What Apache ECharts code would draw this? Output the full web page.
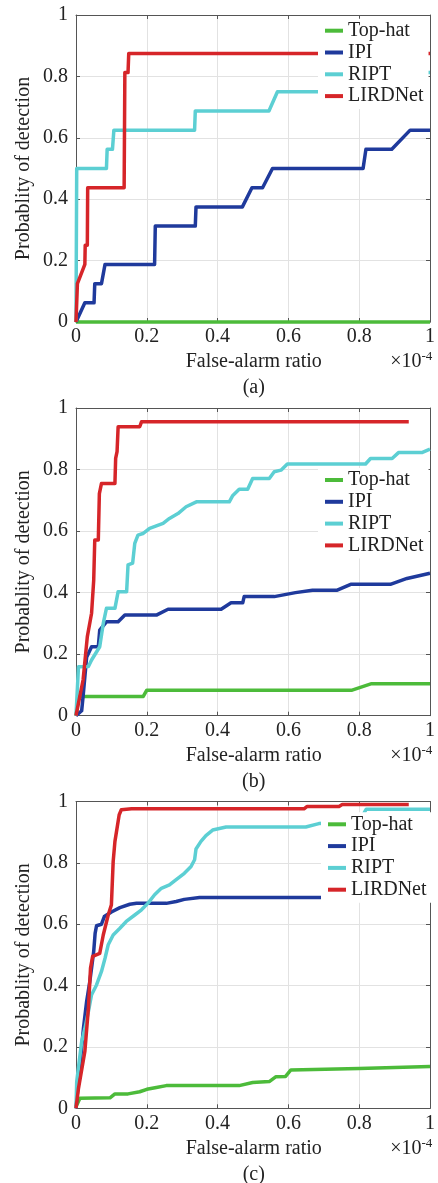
<!DOCTYPE html>
<html>
<head>
<meta charset="utf-8">
<script src="https://cdn.jsdelivr.net/npm/echarts@6/dist/echarts.min.js"></script>
<style>
html,body{margin:0;padding:0;background:#fff;}
#chart{width:438px;height:1183px;}
</style>
</head>
<body>
<div id="chart"></div>
<script>
// ---------- data (x in units of 1e-4) ----------
const seriesNames = ['Top-hat', 'IPI', 'RIPT', 'LIRDNet'];
const tickLabels = ['0', '0.2', '0.4', '0.6', '0.8', '1'];
const panelTitles = ['(a)', '(b)', '(c)'];
const xAxisName = 'False-alarm ratio';
const yAxisName = 'Probablity of detection';
const xScaleBase = '\u00d710';
const xScaleExp = '-4';

// panel (a)
const a_TopHat = [[0,0],[1,0]];
const a_IPI = [[0,0],[0.025,0.0625],[0.051,0.0625],[0.053,0.125],[0.072,0.125],[0.082,0.1875],[0.222,0.1875],[0.224,0.3125],[0.337,0.3125],[0.339,0.375],[0.47,0.375],[0.497,0.4375],[0.527,0.4375],[0.555,0.5],[0.811,0.5],[0.819,0.5625],[0.892,0.5625],[0.944,0.625],[1,0.625]];
const a_RIPT = [[0,0],[0.002,0.5],[0.086,0.5],[0.088,0.5625],[0.103,0.5625],[0.107,0.625],[0.335,0.625],[0.337,0.6875],[0.545,0.6875],[0.569,0.75],[0.85,0.75],[0.87,0.8125],[1,0.8125]];
const a_LIRDNet = [[0,0],[0.004,0.125],[0.025,0.1875],[0.026,0.25],[0.032,0.25],[0.033,0.4375],[0.136,0.4375],[0.138,0.8125],[0.147,0.8125],[0.149,0.875],[1,0.875]];

// panel (b)
const b_TopHat = [[0,0],[0.008,0.0625],[0.19,0.0625],[0.2,0.083],[0.78,0.083],[0.835,0.104],[1,0.104]];
const b_IPI = [[0,0],[0.016,0.016],[0.02,0.062],[0.03,0.19],[0.044,0.224],[0.063,0.224],[0.067,0.278],[0.086,0.305],[0.119,0.305],[0.138,0.327],[0.227,0.327],[0.26,0.346],[0.41,0.346],[0.438,0.367],[0.471,0.367],[0.475,0.387],[0.56,0.387],[0.62,0.40],[0.668,0.408],[0.738,0.408],[0.776,0.427],[0.888,0.427],[0.935,0.446],[1,0.463]];
const b_RIPT = [[0,0],[0.007,0.159],[0.035,0.16],[0.044,0.181],[0.067,0.224],[0.077,0.3],[0.086,0.349],[0.11,0.349],[0.119,0.403],[0.143,0.403],[0.147,0.49],[0.16,0.496],[0.166,0.56],[0.175,0.587],[0.189,0.592],[0.208,0.609],[0.246,0.625],[0.264,0.641],[0.288,0.657],[0.311,0.679],[0.34,0.695],[0.433,0.695],[0.443,0.716],[0.461,0.736],[0.485,0.736],[0.499,0.771],[0.546,0.771],[0.56,0.793],[0.579,0.798],[0.597,0.818],[0.818,0.818],[0.832,0.836],[0.893,0.836],[0.911,0.855],[0.977,0.855],[1,0.866]];
const b_LIRDNet = [[0,0],[0.02,0.116],[0.032,0.257],[0.044,0.333],[0.05,0.44],[0.053,0.571],[0.063,0.571],[0.066,0.722],[0.072,0.755],[0.11,0.755],[0.112,0.836],[0.116,0.858],[0.119,0.939],[0.18,0.939],[0.185,0.955],[0.94,0.955]];

// panel (c)
const c_TopHat = [[0,0.005],[0.011,0.033],[0.096,0.034],[0.11,0.047],[0.147,0.047],[0.18,0.054],[0.2,0.062],[0.227,0.068],[0.255,0.074],[0.461,0.074],[0.499,0.084],[0.546,0.087],[0.565,0.103],[0.592,0.104],[0.607,0.125],[0.8,0.13],[1,0.136]];
const c_IPI = [[0,0],[0.007,0.087],[0.021,0.26],[0.03,0.348],[0.039,0.413],[0.044,0.457],[0.05,0.511],[0.054,0.57],[0.058,0.595],[0.072,0.6],[0.08,0.625],[0.1,0.64],[0.124,0.654],[0.152,0.665],[0.171,0.668],[0.255,0.668],[0.283,0.674],[0.306,0.681],[0.349,0.687],[0.9,0.687]];
const c_RIPT = [[0,0],[0.002,0.087],[0.016,0.217],[0.025,0.26],[0.035,0.315],[0.044,0.37],[0.058,0.402],[0.072,0.446],[0.082,0.489],[0.091,0.533],[0.105,0.565],[0.124,0.587],[0.142,0.609],[0.166,0.63],[0.185,0.647],[0.203,0.668],[0.222,0.696],[0.241,0.717],[0.264,0.728],[0.283,0.745],[0.306,0.766],[0.325,0.788],[0.335,0.81],[0.339,0.845],[0.353,0.87],[0.367,0.889],[0.386,0.907],[0.424,0.917],[0.649,0.917],[0.686,0.928],[0.8,0.935],[0.82,0.975],[1,0.975]];
const c_LIRDNet = [[0,0],[0.007,0.065],[0.025,0.185],[0.035,0.326],[0.041,0.457],[0.047,0.495],[0.067,0.505],[0.077,0.565],[0.091,0.63],[0.1,0.663],[0.105,0.804],[0.11,0.87],[0.122,0.957],[0.128,0.973],[0.157,0.976],[0.644,0.976],[0.653,0.984],[0.743,0.984],[0.752,0.99],[0.94,0.99]];

const panels = [
  [a_TopHat, a_IPI, a_RIPT, a_LIRDNet],
  [b_TopHat, b_IPI, b_RIPT, b_LIRDNet],
  [c_TopHat, c_IPI, c_RIPT, c_LIRDNet]
];

// ---------- styling / layout ----------
const colors = ['#4cbb3a', '#1f3a9c', '#5ccfd3', '#d62529'];
const FONT = '"Liberation Serif", "Times New Roman", serif';
const TEXT = '#222';
const FRAME = '#555';
const GRIDC = '#e2e2e2';
const L = 76, W = 355.5;
const tops = [15, 408, 801.5];
const heights = [307, 307.7, 306.8];
const legendPos = [{left: 318, top: 18.7}, {left: 318, top: 468}, {left: 321, top: 812.3}];

const grid = [], xAxis = [], yAxis = [], series = [], legend = [], graphic = [];
const lbl = v => tickLabels[Math.round(v / 0.2)];

panels.forEach((pdata, i) => {
  grid.push({left: L, top: tops[i], width: W, height: heights[i], containLabel: false});
  const base = {type: 'value', gridIndex: i, min: 0, max: 1, interval: 0.2};
  xAxis.push(Object.assign({}, base, {
    position: 'bottom',
    axisLine: {show: true, onZero: false, lineStyle: {color: FRAME, width: 1}},
    axisTick: {show: true, inside: true, length: 4, lineStyle: {color: FRAME}},
    axisLabel: {show: true, margin: 5, fontSize: 20, fontFamily: FONT, color: TEXT, formatter: lbl},
    splitLine: {show: true, lineStyle: {color: GRIDC, width: 1}}
  }));
  xAxis.push(Object.assign({}, base, {
    position: 'top',
    axisLine: {show: true, onZero: false, lineStyle: {color: FRAME, width: 1}},
    axisTick: {show: true, inside: true, length: 4, lineStyle: {color: FRAME}},
    axisLabel: {show: false},
    splitLine: {show: false}
  }));
  yAxis.push(Object.assign({}, base, {
    position: 'left',
    axisLine: {show: true, onZero: false, lineStyle: {color: FRAME, width: 1}},
    axisTick: {show: true, inside: true, length: 4, lineStyle: {color: FRAME}},
    axisLabel: {show: true, margin: 8, fontSize: 20, fontFamily: FONT, color: TEXT, formatter: lbl},
    splitLine: {show: true, lineStyle: {color: GRIDC, width: 1}}
  }));
  yAxis.push(Object.assign({}, base, {
    position: 'right',
    axisLine: {show: true, onZero: false, lineStyle: {color: FRAME, width: 1}},
    axisTick: {show: true, inside: true, length: 4, lineStyle: {color: FRAME}},
    axisLabel: {show: false},
    splitLine: {show: false}
  }));
  pdata.forEach((d, k) => {
    series.push({
      name: seriesNames[k], type: 'line', xAxisIndex: 2 * i, yAxisIndex: 2 * i,
      data: d, showSymbol: false, symbol: 'none', clip: false, animation: false,
      lineStyle: {color: colors[k], width: 3.5, join: 'round'},
      itemStyle: {color: colors[k]}, z: 2 + k
    });
  });
  legend.push({
    data: seriesNames, orient: 'vertical', left: legendPos[i].left, top: legendPos[i].top,
    icon: 'rect', itemWidth: 18, itemHeight: 4, itemGap: 1.8,
    backgroundColor: '#fff', padding: [2, 5, 3, 7], borderWidth: 0,
    selectedMode: false, z: 10,
    textStyle: {fontSize: 20, fontFamily: FONT, color: TEXT, lineHeight: 20}
  });
  const bottom = tops[i] + heights[i];
  const cx = L + W / 2;
  graphic.push({type: 'text', x: 24, y: tops[i] + heights[i] / 2, rotation: Math.PI / 2,
    style: {text: yAxisName, fontSize: 20, fontFamily: FONT, fill: TEXT, textAlign: 'center', textVerticalAlign: 'middle'}});
  graphic.push({type: 'text', x: cx, y: bottom + 40,
    style: {text: xAxisName, fontSize: 20, fontFamily: FONT, fill: TEXT, textAlign: 'center', textVerticalAlign: 'middle'}});
  graphic.push({type: 'text', x: L + W - 10, y: bottom + 40,
    style: {text: xScaleBase, fontSize: 20, fontFamily: FONT, fill: TEXT, textAlign: 'right', textVerticalAlign: 'middle'}});
  graphic.push({type: 'text', x: L + W - 10, y: bottom + 35,
    style: {text: xScaleExp, fontSize: 13, fontFamily: FONT, fill: TEXT, textAlign: 'left', textVerticalAlign: 'middle'}});
  graphic.push({type: 'text', x: cx, y: bottom + 66,
    style: {text: panelTitles[i], fontSize: 20, fontFamily: FONT, fill: TEXT, textAlign: 'center', textVerticalAlign: 'middle'}});
});

const chart = echarts.init(document.getElementById('chart'), null, {renderer: 'canvas'});
chart.setOption({
  animation: false,
  backgroundColor: '#fff',
  grid, xAxis, yAxis, series, legend, graphic
});
</script>
</body>
</html>
